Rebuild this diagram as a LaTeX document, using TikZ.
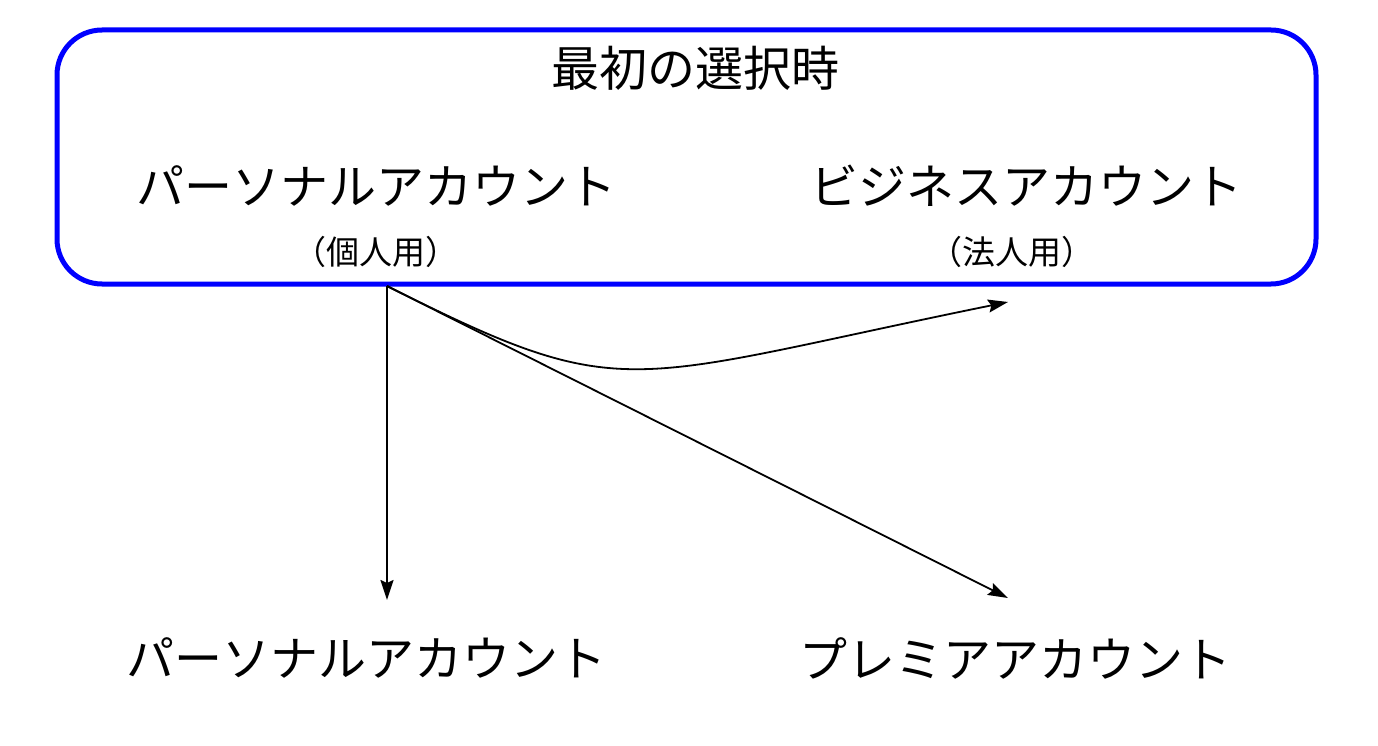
\documentclass[tikz,border=0pt]{standalone}
\usepackage{fontspec}
\newfontfamily\jp{Noto Sans CJK JP}
\usetikzlibrary{arrows.meta}
\definecolor{framblue}{RGB}{0,0,255}
\begin{document}
\begin{tikzpicture}[x=1pt,y=-1pt,
  big/.style={font=\jp\fontsize{48}{52}\selectfont, inner sep=0pt},
  small/.style={font=\jp\fontsize{33}{37}\selectfont, inner sep=0pt},
  frame/.style={draw=framblue, line width=5pt, rounded corners=45pt},
  conn/.style={line width=1.8pt, -{Stealth[length=20pt,width=13pt,inset=3pt]}}]
\useasboundingbox (0,0) rectangle (1378,746);
\node[frame, minimum width=1259pt, minimum height=254pt] (box) at (686.5,157) {};
\node[big] (title) at (695,68) {最初の選択時};
\node[big] (pers) at (376,186) {パーソナルアカウント};
\node[small] (persj) at (376,252) {（個人用）};
\node[big] (bus) at (1026,186) {ビジネスアカウント};
\node[small] (busj) at (1012,252) {（法人用）};
\node[big] (pers2) at (366,658) {パーソナルアカウント};
\node[big] (prem) at (1015,658) {プレミアアカウント};
\coordinate (src) at (387,286);
\coordinate (t1) at (387,600);
\coordinate (t2) at (1008,598);
\coordinate (t3) at (1008,302);
\draw[conn] (src) -- (t1);
\draw[conn] (src) -- (t2);
\draw[conn] (src) .. controls (627,406.5) and (620,381) .. (t3);
\end{tikzpicture}
\end{document}
